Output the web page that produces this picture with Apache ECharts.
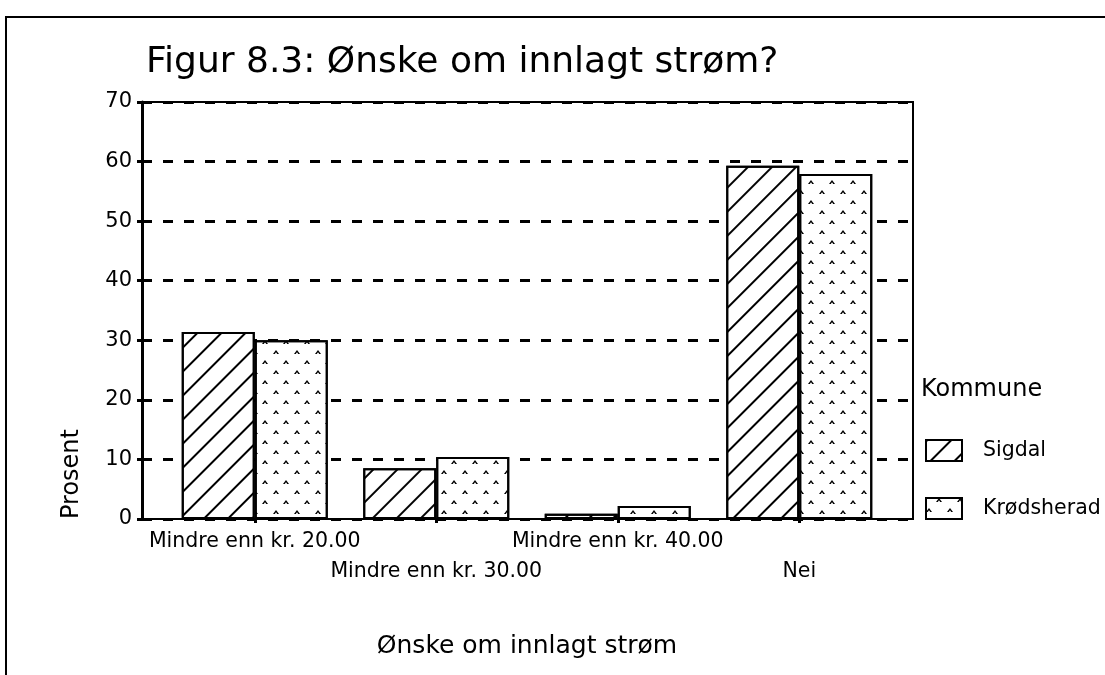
<!DOCTYPE html>
<html>
<head>
<meta charset="utf-8">
<script src="https://cdn.jsdelivr.net/npm/echarts@6/dist/echarts.min.js"></script>
<style>
  html, body { margin: 0; padding: 0; background: #fff; }
  #chart { width: 1105px; height: 675px; }
</style>
</head>
<body>
<div id="chart"></div>
<script>
// Categories on the x axis
const categories = [
  'Mindre enn kr. 20.00',
  'Mindre enn kr. 30.00',
  'Mindre enn kr. 40.00',
  'Nei'
];
// Percent per municipality
const sigdal = [31.4, 8.5, 0.9, 59.3];
const krodsherad = [30.0, 10.4, 2.2, 57.9];
// Value axis range
const yMin = 0;
const yMax = 70;
const yStep = 10;

const FONT = 'DejaVu Sans';

// Diagonal hatching
const hatch = {
  symbol: 'rect',
  symbolSize: 1,
  color: '#000',
  dashArrayX: [1, 0],
  dashArrayY: [1.5, 14.5],
  rotation: -Math.PI / 4
};
// Staggered small carets
const carets = {
  symbol: 'path://M0,10 L5,0 L10,10 L7,10 L5,5.5 L3,10 Z',
  symbolSize: 1,
  symbolKeepAspect: false,
  color: '#000',
  dashArrayX: [[6, 15], [0, 10, 6, 5]],
  dashArrayY: [4, 6]
};

const chart = echarts.init(document.getElementById('chart'), null, { renderer: 'canvas' });

chart.setOption({
  animation: false,
  backgroundColor: '#fff',
  textStyle: { fontFamily: FONT, color: '#000' },
  title: [
    {
      text: 'Figur 8.3: Ønske om innlagt strøm?',
      left: 146, top: 45, padding: 0,
      textStyle: { fontFamily: FONT, fontSize: 36, fontWeight: 'normal', color: '#000' }
    },
    {
      text: 'Kommune',
      left: 921, top: 378, padding: 0,
      textStyle: { fontFamily: FONT, fontSize: 24, fontWeight: 'normal', color: '#000' }
    }
  ],
  legend: {
    orient: 'vertical',
    left: 925, top: 439, padding: 0,
    itemWidth: 36, itemHeight: 21, itemGap: 35,
    icon: 'rect',
    selectedMode: false,
    textStyle: { fontFamily: FONT, fontSize: 20.5, color: '#000', padding: [0, 0, 0, 16] },
    data: ['Sigdal', 'Krødsherad']
  },
  grid: [
    { left: 142, right: 192, top: 102, bottom: 156, show: true, borderColor: '#000', borderWidth: 2 },
    { left: 164, right: 215, top: 102, bottom: 156 }
  ],
  xAxis: [
    { gridIndex: 0, type: 'value', show: false },
    {
      gridIndex: 1,
      type: 'category',
      data: categories,
      axisLine: { show: false },
      axisTick: { show: true, alignWithLabel: true, interval: 0, length: 4, lineStyle: { width: 3, color: '#000' } },
      axisLabel: {
        interval: 0, fontFamily: FONT, fontSize: 20.5, color: '#000', lineHeight: 30, margin: 8,
        formatter: (v, i) => (i % 2 ? '\n' + v : v)
      },
      name: 'Ønske om innlagt strøm',
      nameLocation: 'middle',
      nameGap: 115,
      nameTextStyle: { fontFamily: FONT, fontSize: 25, color: '#000' }
    }
  ],
  yAxis: [
    {
      gridIndex: 0, type: 'value', min: yMin, max: yMax, interval: yStep,
      axisLine: { show: true, lineStyle: { color: '#000', width: 3 } },
      axisTick: { show: true, length: 5, lineStyle: { width: 3, color: '#000' } },
      axisLabel: { fontFamily: FONT, fontSize: 21, color: '#000', margin: 10 },
      splitLine: { show: true, lineStyle: { color: '#000', width: 3, type: [10, 11] } }
    },
    { gridIndex: 1, type: 'value', min: yMin, max: yMax, interval: yStep, show: false }
  ],
  series: [
    {
      name: 'Sigdal', type: 'bar', xAxisIndex: 1, yAxisIndex: 1,
      data: sigdal, barWidth: 73, barGap: '0%',
      itemStyle: { color: '#fff', borderColor: '#000', borderWidth: 2, decal: hatch },
      emphasis: { disabled: true }
    },
    {
      name: 'Krødsherad', type: 'bar', xAxisIndex: 1, yAxisIndex: 1,
      data: krodsherad, barWidth: 73, barGap: '0%',
      itemStyle: { color: '#fff', borderColor: '#000', borderWidth: 2, decal: carets },
      emphasis: { disabled: true }
    }
  ],
  graphic: [
    {
      type: 'polyline', silent: true,
      shape: { points: [[6, 675], [6, 17], [1105, 17]] },
      style: { stroke: '#000', lineWidth: 2, fill: null }
    },
    {
      type: 'text', silent: true,
      x: 72, y: 474, rotation: Math.PI / 2,
      style: {
        text: 'Prosent', fontFamily: FONT, fontSize: 24, fill: '#000',
        align: 'center', verticalAlign: 'middle', textAlign: 'center', textVerticalAlign: 'middle'
      }
    }
  ]
});
</script>
</body>
</html>
